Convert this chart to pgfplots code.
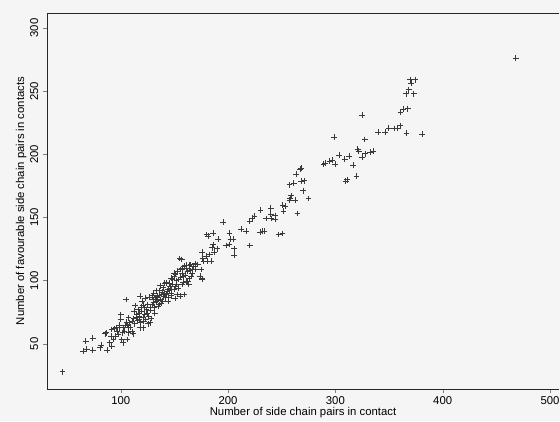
\documentclass[border=0pt]{standalone}
\usepackage{pgfplots}
\pgfplotsset{compat=1.18}
\usepackage{fontspec}
\setmainfont{Liberation Sans}
\usetikzlibrary{calc,backgrounds}
\definecolor{mk}{HTML}{3A3A3A}
\begin{document}
\begin{tikzpicture}
\begin{axis}[
  name=ax,
  scale only axis,
  width=384pt, height=282pt,
  xmin=31.3, xmax=508.4, ymin=14.2, ymax=311.9,
  xtick={100,200,300,400,500},
  ytick={50,100,150,200,250,300},
  tick align=outside,
  tick pos=left,
  major tick length=3pt,
  axis line style={draw=none},
  font=\fontsize{8.5}{10}\selectfont,
  /pgf/number format/assume math mode=true,
  yticklabel style={rotate=90, anchor=south},
  xticklabel style={yshift=1pt},
  xlabel={Number of side chain pairs in contact},
  ylabel={Number of favourable side chain pairs in contacts},
  xlabel style={inner sep=0pt, yshift=1.5pt},
  ylabel style={yshift=-4pt},
  clip=false,
]
\draw[black!85, line width=0.6pt] (rel axis cs:1,1) -- (rel axis cs:0,1) -- (rel axis cs:0,0) -- (rel axis cs:1,0);
\addplot[only marks, mark=+, mark size=2.2pt, mk, mark options={line width=0.5pt}] coordinates {
(45.7,27.8) (468,276)
(64.7,44.2) (67.3,52.1) (68.3,46) (74,54.7) (74,45) (80.7,46.8) (81.7,48.9)
(85.7,57.9) (86.3,58.7) (87.3,45) (89.7,50.8) (91.3,56.1) (91.7,61.3) (91.7,48.2)
(93.3,53.4) (94,61.9) (96,62.7) (97.7,57.4) (98.3,62.7) (100,73.2) (100,69.2)
(100.7,53.4) (101.7,58.7) (102.3,62.7) (104,64.5) (105,85.1) (105.7,53.4) (106.3,65.3)
(107.3,62.7) (108.3,66.6) (107.3,70.6) (111.3,57.9) (110.7,67.9) (112.3,75.8) (113.3,80.3)
(115,73.2) (115.7,68.7) (117.3,74.5) (118.3,62.7) (118.7,67.1) (118.3,87.7) (120,83.8)
(120.7,70.6) (122.3,73.2) (122.3,78.5) (123.3,69.2) (124.7,74.5) (125,81.1) (126.7,86.9)
(127.3,66.6) (128,76.6) (129,81.1) (130,85.1) (130.7,90.3) (131.7,74.5) (133,83.8)
(134,87.7) (135,79.8) (136.3,92.2) (137.3,85.1) (138.3,89) (139.7,94.3) (140.7,90.3)
(141.7,86.4) (142.3,98.3) (144,93) (144.7,86.4) (146.3,95.6) (146.7,90.3) (148.3,100.9)
(150,93) (151,104.9) (151.7,96.9) (152.7,89) (154,100.9) (155.7,108.8) (156.3,116.7)
(157.3,96.9) (158.3,103.5) (159,111.4) (160.7,99.6) (162.3,107.5) (163.3,96.9) (165,112.8)
(165.7,103.5) (155,117.5) (157.3,109.3) (153,107.5) (150,103.5) (146.7,102.2) (150.7,95.1)
(158,99) (162.3,99.6) (168,111.4) (169.3,109.3) (171.7,112.8) (174,103.5) (175.7,101.4)
(159,89) (155.7,87.7) (150.7,85.9) (144,83.8) (139,83.8) (135.7,81.1)
(107.3,58.7) (102.3,50.8) (110.7,59.5) (120.7,62.7) (125.7,65.8) (117.3,69.2)
(119.5,76) (121,80.5) (123,86) (126,72) (127.5,78.5) (129.5,88) (131,79)
(132.5,86.5) (133.5,92) (136,88.5) (137,96) (138.5,91) (140,87.5) (141,98)
(143,91.5) (145,98) (147.5,93.5) (148.5,97) (149.5,106) (152,100) (153.5,94)
(156,103) (157,106) (160,104.5) (161.5,109.5) (163.5,101.5) (164.5,108) (166.5,106)
(113,66) (114.5,71) (116,77) (117,72) (119,79) (121.5,68) (124,77)
(103.5,60) (105.5,67) (109,63) (112,70) (97,60) (95,56) (99,65)
(128.5,70) (130.5,82.5) (134.5,84.5) (137.5,82) (142.5,89) (145.5,92) (147,88)
(169.3,113.6) (164,112.2) (166.7,108.8) (156.7,116.7) (160.7,112.2) (157.3,110.1)
(171.3,112.8) (174.7,108.8) (175.7,101.7) (176.3,118) (177.3,115.4) (179.7,119.4)
(180.7,115.4) (183,120.7) (184,115.4) (185,126) (186.3,128.6) (187.3,122.8) (189.7,125.2)
(190.7,133) (175.7,122.5) (180,136.5) (181.7,135.2) (186.3,137.8)
(195.3,146.3) (198,127.8) (201.3,137.8) (201.3,128.6) (202.3,133) (204.7,133) (205.7,125.2)
(205.7,120.1) (212.3,141) (216.7,139.1) (220.3,147) (222.3,149.7) (224.7,151) (220.3,127.8)
(229.7,138.6) (230.3,155.7) (232.3,139.1) (234,139.1) (235.7,149.2) (239.7,157.6) (239.7,152.8)
(240,149.2) (244,151.5) (244,148.4) (247.3,136.5) (250.7,137.3) (250.7,159.7) (253,158.9)
(251.7,155) (257.3,163.7) (258,165.5) (259,167.4) (262.3,163.7) (264.7,153.1) (257.3,176)
(261.3,177.4) (263.3,184.5) (267.3,188.4) (268.3,189.2) (268.3,178.7) (271.3,179.2) (269.7,171.3)
(275,165)
(289,192.4) (290.7,193.2) (294.7,194.5) (297.3,195.3) (300,192.4) (299,213.8) (303.7,199.3)
(308.7,196.4) (309.7,178.7) (311,180) (313,198.5) (316.3,191.3) (319.7,182.6) (320.7,204.3)
(321.7,202.4) (324.7,197.9) (328,200.6) (332.3,201.6) (335,202.4) (327.3,211.7) (324.7,230.9)
(339.7,217.7) (346.3,217.7) (349.7,220.9) (354.7,220.4) (357.3,220.9) (360.7,222.7) (366.3,216.9)
(380.7,216.1) (360.7,233.3) (363.3,235.9) (367.3,236.2) (365.7,248) (373,248) (368.3,251.2)
(370.7,256.5) (369.7,259.1) (374.7,259.1)
};
\end{axis}
\pgfresetboundingbox
\path[use as bounding box] ($(ax.south west)+(-35.25pt,-24pt)$) rectangle ($(ax.north east)+(0.75pt,9.75pt)$);
\begin{scope}[on background layer]
\fill[black!4] (current bounding box.south west) rectangle (current bounding box.north east);
\end{scope}
\end{tikzpicture}
\end{document}
